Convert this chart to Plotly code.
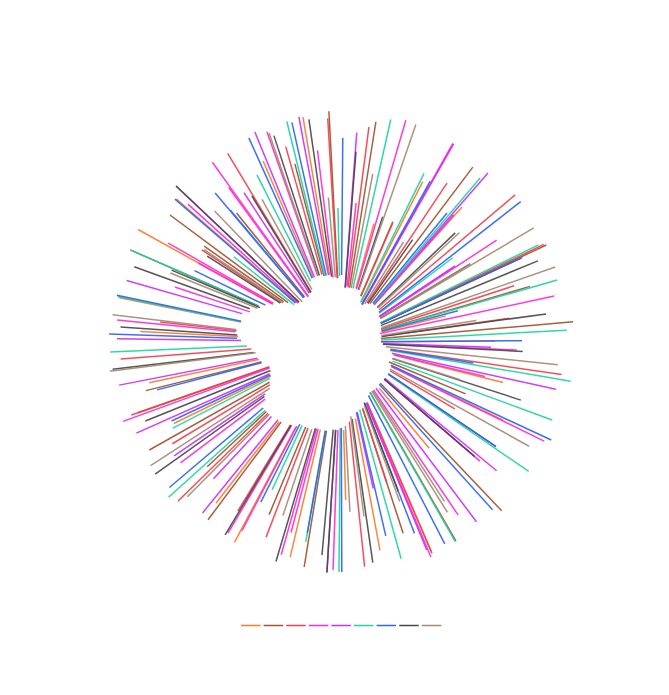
import plotly.graph_objects as go

series_names = ["A", "B", "C", "D", "E", "F", "G", "H", "I"]
colors = ["#ff7a28", "#a0522d", "#f2404e", "#ff2bd0", "#cc2dfb", "#1fd4a0", "#2a64f8", "#484848", "#a58a74"]

theta_a = [15.5, 27, 41.9, 76, 89.6, 104, 115.7, 140.3, 156.7, 169.4, 178.3, 193.3, 208, 217.8, 244, 258, 273, 281.3, 299, 311, 336.7, 350.4]
inner_a = [56, 45, 50, 42, 40, 55, 56, 60, 66, 78, 88, 90, 96, 101, 78, 84, 103, 102, 78, 60, 70, 68]
outer_a = [123, 180, 181, 108, 154, 167, 180, 138, 228, 212, 158, 221, 227, 204, 186, 196, 201, 226, 232, 218, 197, 228]

theta_b = [9, 23.3, 37, 64.7, 65, 73.6, 85, 112.6, 124, 136.4, 150, 162, 189.3, 202.6, 216.8, 227, 240.6, 250.8, 256, 293.6, 305, 306.6, 321, 345.5, 357]
inner_b = [55, 50, 48, 44, 44, 42, 40, 52, 57, 57, 58, 70, 90, 92, 100, 102, 82, 76, 82, 90, 70, 66, 58, 68, 64]
outer_b = [223, 131, 219, 227, 198, 197, 233, 135, 187, 233, 230, 201, 228, 187, 222, 183, 220, 215, 201, 230, 167, 213, 166, 184, 231]

theta_c = [7.4, 23.5, 33.7, 49.8, 64.3, 72, 82, 98.4, 120.4, 156.7, 162, 174, 201, 211.4, 225.7, 238.9, 250.8, 265.6, 276.3, 303.5, 329, 344.2, 356.6]
inner_c = [55, 50, 47, 50, 44, 42, 41, 50, 57, 66, 70, 80, 92, 97, 102, 83, 76, 90, 105, 72, 58, 70, 64]
outer_c = [217, 130, 191, 228, 225, 182, 170, 223, 132, 230, 148, 226, 209, 198, 228, 197, 222, 221, 182, 167, 220, 203, 224]

theta_d = [6.2, 16.3, 29.4, 56.5, 56.8, 77.8, 92.6, 103.5, 116, 130.6, 145.9, 157.3, 182, 194.7, 195.7, 207.7, 210.6, 233, 250, 275.6, 288.3, 299, 299.8, 312, 324, 324.4, 340.6, 353]
inner_d = [56, 55, 43, 46, 46, 40, 42, 54, 56, 57, 58, 66, 88, 90, 90, 95, 97, 95, 76, 106, 96, 78, 78, 58, 56, 56, 70, 65]
outer_d = [140, 231, 228, 132, 186, 218, 176, 148, 226, 183, 209, 233, 228, 197, 221, 213, 222, 201, 232, 225, 175, 163, 199, 206, 191, 221, 223, 193]

theta_e = [4.3, 29.6, 41, 41.5, 56.3, 92, 102.4, 129.6, 130.6, 143, 157.6, 167.6, 183.5, 219, 223, 235.7, 246, 259, 270.8, 286, 313.4, 327, 337.7, 349.4]
inner_e = [54, 43, 50, 50, 46, 42, 52, 57, 57, 58, 66, 72, 88, 100, 102, 92, 78, 85, 100, 103, 58, 58, 70, 68]
outer_e = [210, 228, 224, 170, 137, 150, 220, 202, 176, 225, 225, 150, 231, 220, 187, 202, 224, 226, 224, 223, 227, 178, 227, 229]

theta_f = [12.6, 26.2, 40.3, 53, 63.8, 74, 87, 99.7, 110.3, 124.6, 150.2, 164.5, 180.5, 190, 205, 228, 242.9, 267.5, 281.5, 293.6, 308.5, 333.3, 346.2, 358.7]
inner_f = [55, 44, 50, 48, 44, 42, 40, 50, 55, 57, 58, 70, 86, 90, 92, 102, 80, 94, 102, 90, 60, 68, 68, 66]
outer_f = [228, 188, 215, 140, 220, 225, 226, 233, 225, 228, 230, 225, 230, 203, 163, 232, 189, 231, 228, 230, 137, 187, 227, 134]

theta_g = [0.5, 29, 39.4, 52, 65, 75, 89.6, 99, 115, 124, 137.9, 152.8, 159, 167, 179.8, 190, 206.6, 229.7, 245, 255.4, 272, 281.8, 296, 310.7, 319.8, 320, 335.7, 347.4]
inner_g = [67, 43, 50, 48, 44, 42, 40, 50, 55, 57, 57, 60, 65, 72, 86, 90, 92, 102, 78, 82, 104, 102, 84, 60, 58, 58, 70, 68]
outer_g = [204, 184, 167, 228, 200, 121, 181, 134, 232, 187, 226, 227, 205, 199, 230, 194, 179, 225, 187, 190, 232, 229, 163, 219, 195, 172, 224, 225]

theta_h = [4.5, 18.4, 35, 46.3, 58.8, 67.6, 82.2, 93, 107.9, 130.6, 159, 171.8, 183.5, 185.1, 196.5, 211, 234.6, 248, 263.2, 273.9, 290, 293, 302.7, 313.4, 328.6, 342, 351.8]
inner_h = [55, 55, 47, 50, 46, 43, 41, 42, 54, 57, 65, 78, 88, 88, 90, 97, 94, 76, 88, 104, 97, 88, 72, 58, 58, 70, 66]
outer_h = [191, 132, 125, 158, 151, 213, 207, 182, 189, 176, 160, 223, 231, 214, 229, 225, 228, 211, 230, 221, 220, 184, 159, 227, 171, 217, 225]

theta_i = [10.7, 19, 32, 47.3, 58.8, 59.4, 70.7, 81, 96, 107.6, 119, 147, 148, 159.8, 172.5, 177, 198.5, 224.8, 237, 262.8, 276.8, 292, 304, 316, 331, 341, 355]
inner_i = [55, 55, 45, 50, 46, 46, 43, 41, 45, 54, 56, 58, 58, 68, 75, 84, 92, 102, 85, 86, 106, 90, 70, 56, 60, 70, 65]
outer_i = [171, 230, 118, 161, 151, 224, 227, 137, 218, 125, 215, 190, 201, 170, 176, 170, 183, 218, 227, 233, 230, 184, 165, 182, 163, 221, 145]

all_theta = [theta_a, theta_b, theta_c, theta_d, theta_e, theta_f, theta_g, theta_h, theta_i]
all_inner = [inner_a, inner_b, inner_c, inner_d, inner_e, inner_f, inner_g, inner_h, inner_i]
all_outer = [outer_a, outer_b, outer_c, outer_d, outer_e, outer_f, outer_g, outer_h, outer_i]

W, H = 669, 695
CX, CY, R = 341, 342, 240

fig = go.Figure()
for name, color, ths, r0s, r1s in zip(series_names, colors, all_theta, all_inner, all_outer):
    t, r = [], []
    for a, b, c in zip(ths, r0s, r1s):
        t += [a, a, None]
        r += [b, c, None]
    fig.add_trace(go.Scatterpolar(theta=t, r=r, mode="lines", name=name, showlegend=False,
                                  line=dict(color=color, width=1.5), opacity=0.92,
                                  connectgaps=False, hoverinfo="name"))

swatch_x0 = 241
swatch_pitch = 22.6
shapes = [dict(type="line", xref="paper", yref="paper",
               x0=(swatch_x0 + i * swatch_pitch) / W, x1=(swatch_x0 + i * swatch_pitch + 19.5) / W,
               y0=1 - 625.5 / H, y1=1 - 625.5 / H,
               line=dict(color=c, width=1.5))
          for i, c in enumerate(colors)]

fig.update_layout(
    width=W, height=H, margin=dict(l=0, r=0, t=0, b=0),
    paper_bgcolor="white", plot_bgcolor="white", showlegend=False, shapes=shapes,
    polar=dict(
        bgcolor="white",
        domain=dict(x=[(CX - R) / W, (CX + R) / W], y=[1 - (CY + R) / H, 1 - (CY - R) / H]),
        radialaxis=dict(visible=False, range=[0, R]),
        angularaxis=dict(visible=False, rotation=90, direction="clockwise"),
    ),
)
fig.write_html("out.html", config={"displayModeBar": False},
               post_script="document.body.style.margin='0';document.body.style.overflow='hidden';")
